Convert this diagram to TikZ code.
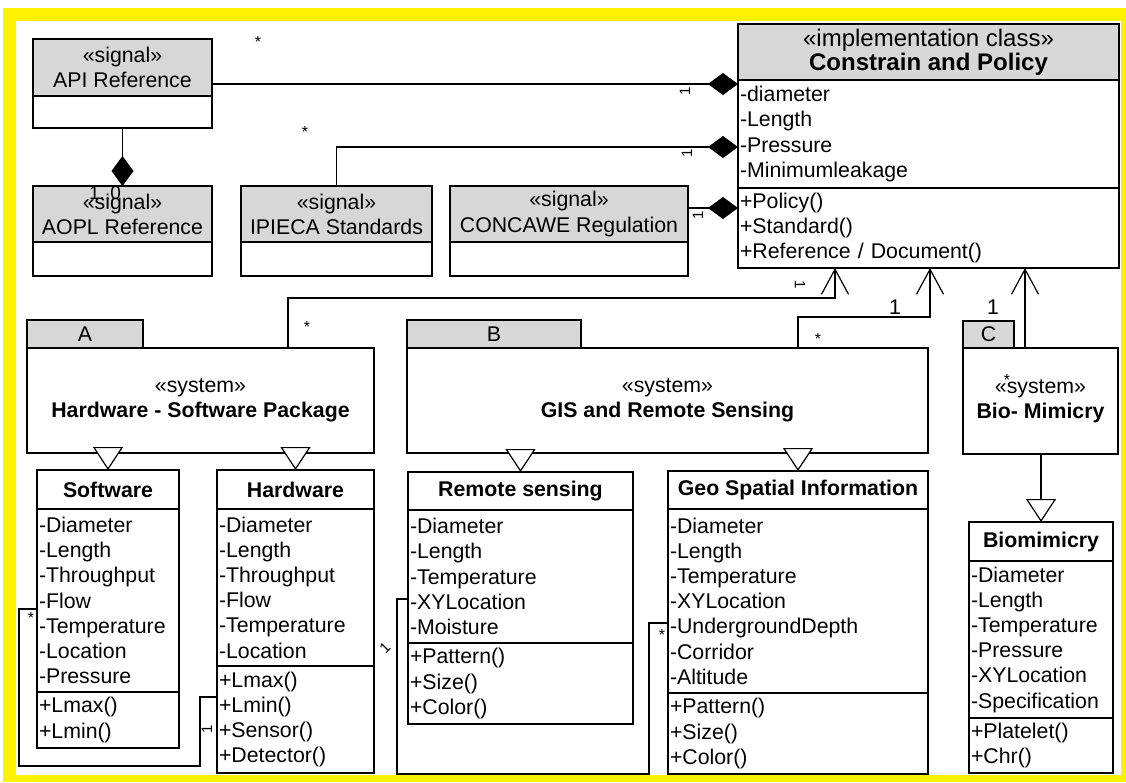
\documentclass[tikz,border=0pt]{standalone}
\usepackage{fontspec}
\setmainfont{Liberation Sans}
\usepackage{tikz}
\usetikzlibrary{arrows.meta, positioning}

\definecolor{hdgray}{RGB}{215,215,215}
\newcommand{\umlfont}{\fontsize{21.3pt}{25.2pt}\selectfont}

\begin{document}
\begin{tikzpicture}[x=1pt, y=-1pt, font=\umlfont]
        % Setup the styles for the classes and the links
        \tikzset{box/.style={draw, line width=1.5pt, inner sep=0pt, outer sep=0pt, fill=white},
                 head/.style={box, fill=hdgray, align=center},
                 title/.style={box, align=center, font=\umlfont\bfseries},
                 part/.style={box, align=left, inner xsep=2pt},
                 pkg/.style={box, align=center},
                 comp/.style={line width=1.2pt, -{Diamond[length=30pt, width=22pt]}},
                 inh/.style={line width=1.2pt, -{Straight Barb[length=25pt, width=27pt]}},
                 gen/.style={line width=1.2pt, -{Triangle[length=23pt, width=30pt, fill=white]}},
                 assoc/.style={line width=1.2pt},
                 mult/.style={inner sep=0pt, font=\fontsize{16pt}{16pt}\selectfont},
                 one/.style={inner sep=0pt, font=\fontsize{15pt}{15pt}\selectfont}}

        % Frame
        \useasboundingbox (0,0) rectangle (1126,782);
        \fill[yellow] (3,8) rectangle (1126,782);
        \fill[white] (16,21) rectangle (1121,775);

        % Draw the signal classes
        \node[head, minimum width=179pt, minimum height=57pt, anchor=north west] (apiH) at (33,39) {«signal»\\API Reference};
        \node[box, minimum width=179pt, minimum height=32pt, below=0pt of apiH] (apiB) {};
        \node[head, minimum width=179pt, minimum height=56pt, anchor=north west] (aoplH) at (33,186) {«signal»\\AOPL Reference};
        \node[box, minimum width=179pt, minimum height=34pt, below=0pt of aoplH] (aoplB) {};
        \node[head, minimum width=191pt, minimum height=56pt, anchor=north west] (ipH) at (241,186) {«signal»\\IPIECA Standards};
        \node[box, minimum width=191pt, minimum height=34pt, below=0pt of ipH] (ipB) {};
        \node[head, minimum width=238pt, minimum height=56pt, anchor=north west] (cwH) at (450,186) {«signal»\\CONCAWE Regulation};
        \node[box, minimum width=238pt, minimum height=34pt, below=0pt of cwH] (cwB) {};

        % Draw the policy class
        \node[head, minimum width=381pt, minimum height=56pt, anchor=north west, font=\fontsize{24pt}{24pt}\selectfont] (polH) at (738,24) {«implementation class»\\\textbf{Constrain and Policy}};
        \node[part, text width=377pt, minimum height=108pt, below=0pt of polH] (polA) {-diameter\\-Length\\-Pressure\\-Minimumleakage};
        \node[part, text width=377pt, minimum height=80pt, below=0pt of polA] (polO) {+Policy()\\+Standard()\\+Reference / Document()};

        % Draw the packages
        \node[pkg, minimum width=347pt, minimum height=105pt, anchor=north west] (pkgA) at (27,348) {«system»\\\textbf{Hardware - Software Package}};
        \node[head, minimum width=116pt, minimum height=28pt, above right=0pt of pkgA.north west] (tabA) {A};
        \node[pkg, minimum width=521pt, minimum height=105pt, anchor=north west] (pkgB) at (407,348) {«system»\\\textbf{GIS and Remote Sensing}};
        \node[head, minimum width=174pt, minimum height=28pt, above right=0pt of pkgB.north west] (tabB) {B};
        \node[pkg, minimum width=155pt, minimum height=106pt, anchor=north west] (pkgC) at (963,348) {«system»\\\textbf{Bio- Mimicry}};
        \node[head, minimum width=51pt, minimum height=27pt, above right=0pt of pkgC.north west] (tabC) {C};

        % Draw the lower classes
        \node[title, minimum width=142pt, minimum height=39pt, anchor=north west] (softN) at (37,470) {Software};
        \node[part, text width=138pt, minimum height=183pt, below=0pt of softN] (softA) {-Diameter\\-Length\\-Throughput\\-Flow\\-Temperature\\-Location\\-Pressure};
        \node[part, text width=138pt, minimum height=56pt, below=0pt of softA] (softO) {+Lmax()\\+Lmin()};

        \node[title, minimum width=157pt, minimum height=39pt, anchor=north west] (hwN) at (217,470) {Hardware};
        \node[part, text width=153pt, minimum height=157pt, below=0pt of hwN] (hwA) {-Diameter\\-Length\\-Throughput\\-Flow\\-Temperature\\-Location};
        \node[part, text width=153pt, minimum height=107pt, below=0pt of hwA] (hwO) {+Lmax()\\+Lmin()\\+Sensor()\\+Detector()};

        \node[title, minimum width=225pt, minimum height=38pt, anchor=north west] (rsN) at (408,472) {Remote sensing};
        \node[part, text width=221pt, minimum height=133pt, below=0pt of rsN] (rsA) {-Diameter\\-Length\\-Temperature\\-XYLocation\\-Moisture};
        \node[part, text width=221pt, minimum height=81pt, below=0pt of rsA] (rsO) {+Pattern()\\+Size()\\+Color()};

        \node[title, minimum width=260pt, minimum height=38pt, anchor=north west] (geoN) at (668,471) {Geo Spatial Information};
        \node[part, text width=256pt, minimum height=184pt, below=0pt of geoN] (geoA) {-Diameter\\-Length\\-Temperature\\-XYLocation\\-UndergroundDepth\\-Corridor\\-Altitude};
        \node[part, text width=256pt, minimum height=81pt, below=0pt of geoA] (geoO) {+Pattern()\\+Size()\\+Color()};

        \node[title, minimum width=144pt, minimum height=39pt, anchor=north west] (bioN) at (969,522) {Biomimicry};
        \node[part, text width=140pt, minimum height=157pt, below=0pt of bioN] (bioA) {-Diameter\\-Length\\-Temperature\\-Pressure\\-XYLocation\\-Specification};
        \node[part, text width=140pt, minimum height=55pt, below=0pt of bioA] (bioO) {+Platelet()\\+Chr()};

        % Connect the signals to the policy
        \draw[comp] (apiH.east |- 0,84) -- (polA.west |- 0,84);
        \draw[comp] (ipH.north) |- (polA.west |- 0,147);
        \draw[comp] (cwH.east |- 0,208) -- (polO.west |- 0,208);
        \draw[comp] (apiB.south) -- (aoplH.north);

        % Connect the packages to the policy
        \coordinate (pA) at ([xshift=261pt]pkgA.north west);
        \coordinate (qA) at ([xshift=97pt]polO.south west);
        \coordinate (pB) at ([xshift=-130pt]pkgB.north east);
        \coordinate (qB) at ([xshift=192pt]polO.south west);
        \coordinate (pC) at ([xshift=62pt]pkgC.north west);
        \draw[inh] (pA) -- (pA |- 0,298) -| (qA);
        \draw[inh] (pB) -- (pB |- 0,317) -| (qB);
        \draw[inh] (pC) -- (pC |- polO.south);

        % Packages down to their classes
        \draw[gen] (softN.north |- pkgA.south) ++(0,-4) -- (softN.north);
        \draw[gen] (hwN.north |- pkgA.south) ++(0,-4) -- (hwN.north);
        \draw[gen] (rsN.north |- pkgB.south) ++(0,-4) -- (rsN.north);
        \draw[gen] (geoN.north |- pkgB.south) ++(0,-4) -- (geoN.north);
        \draw[gen] (bioN.north |- pkgC.south) -- (bioN.north);

        % Links between sibling classes
        \draw[assoc] (softA.west |- 0,609) -- ++(-18,0) -- ++(0,157) -- ++(181,0) -- ++(0,-69) -- (hwO.west |- 0,697);
        \draw[assoc] (rsA.west |- 0,599) -- ++(-11,0) -- ++(0,175) -- ++(252,0) -- ++(0,-151) -- (geoA.west |- 0,623);

        % Multiplicities
        \node[mult] (m1) at (258,42) {*};
        \node[one, rotate=90] (m2) at (685,91) {1};
        \node[mult] (m3) at (305,132) {*};
        \node[one, rotate=90] (m4) at (687,153) {1};
        \node[one, rotate=90] (m5) at (698,215) {1};
        \node[inner sep=0pt, font=\fontsize{19pt}{19pt}\selectfont] (m6) at (105,193) {1..0};
        \node[mult] (m7) at (307,327) {*};
        \node[one, rotate=-90] (m8) at (800,285) {1};
        \node[mult] (m9) at (818,339) {*};
        \node[inner sep=0pt] (m10) at (895,307) {1};
        \node[inner sep=0pt] (m11) at (993,307) {1};
        \node[mult] (m12) at (1007,380) {*};
        \node[mult] (m13) at (31,618) {*};
        \node[one, rotate=90] (m14) at (207,729) {1};
        \node[one, rotate=45] (m15) at (385,648) {1};
        \node[mult] (m16) at (662,635) {*};
\end{tikzpicture}
\end{document}
